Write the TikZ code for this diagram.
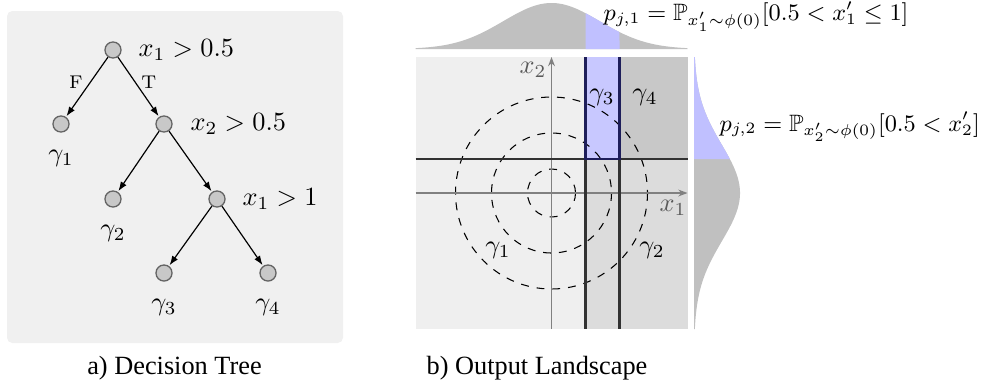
\documentclass[tikz,border=0pt]{standalone}
\usepackage{amsmath,amssymb}
\usepackage{fontspec}
\newfontfamily\capfont{Liberation Serif}
\usetikzlibrary{arrows.meta}
\definecolor{panelbg}{RGB}{240,240,240}
\definecolor{regA}{RGB}{239,239,239}
\definecolor{regB}{RGB}{220,220,220}
\definecolor{regC}{RGB}{200,200,255}
\definecolor{regD}{RGB}{200,200,200}
\definecolor{gaussgray}{RGB}{192,192,192}
\definecolor{gaussblue}{RGB}{192,192,255}
\definecolor{nodefill}{RGB}{200,200,200}
\definecolor{nodeedge}{RGB}{100,100,100}
\definecolor{splitline}{RGB}{50,50,50}
\definecolor{boxline}{RGB}{30,30,90}
\definecolor{axisgray}{RGB}{128,128,128}
\definecolor{axislabel}{RGB}{90,90,90}
\begin{document}
\begin{tikzpicture}[x=0.38pt,y=-0.38pt,
  treenode/.style={circle,fill=nodefill,draw=nodeedge,line width=0.5pt,minimum size=6.1pt,inner sep=0pt},
  treeedge/.style={-{Latex[length=3.6pt,width=2.6pt]},line width=0.45pt,shorten >=0.3pt},
  lbl/.style={inner sep=0pt},
  formula/.style={inner sep=0pt,anchor=base west,font=\fontsize{9}{11}\selectfont},
  edgelbl/.style={inner sep=0pt,font=\scriptsize},
  split/.style={draw=splitline,line width=0.8pt},
  axisline/.style={draw=axisgray,line width=0.5pt},
  axisarrow/.style={axisline,-{Stealth[length=3.5pt,width=2.6pt]}},
  contour/.style={dashed,line width=0.4pt,black},
  caption/.style={inner sep=0pt,font=\capfont}]
\useasboundingbox (0,0) rectangle (987,389);

% ---------- a) Decision tree ----------
\fill[panelbg,rounded corners=2pt] (7,11) rectangle (343,343);

\node[treenode] (n1) at (113,50) {};
\node[treenode] (n2) at (61,124) {};
\node[treenode] (n3) at (164,124) {};
\node[treenode] (n4) at (113,199) {};
\node[treenode] (n5) at (217,199) {};
\node[treenode] (n6) at (164,273) {};
\node[treenode] (n7) at (268,273) {};

\node[lbl,anchor=west] (c1) at (138,50) {$x_1 > 0.5$};
\node[lbl,anchor=west] (c2) at (190,124) {$x_2 > 0.5$};
\node[lbl,anchor=west] (c3) at (242,199) {$x_1 > 1$};

\node[lbl] (g1) at (61,158) {$\gamma_1$};
\node[lbl] (g2) at (113,233) {$\gamma_2$};
\node[lbl] (g3) at (164,307) {$\gamma_3$};
\node[lbl] (g4) at (268,307) {$\gamma_4$};

\draw[treeedge] (n1) -- (n2);
\draw[treeedge] (n1) -- (n3);
\draw[treeedge] (n3) -- (n4);
\draw[treeedge] (n3) -- (n5);
\draw[treeedge] (n5) -- (n6);
\draw[treeedge] (n5) -- (n7);

\node[edgelbl] (fl) at (76,82) {F};
\node[edgelbl] (tl) at (149,82) {T};

% ---------- b) Output landscape ----------
% regions (origin at 551.5,193; 68 px per unit)
\fill[regA] (415.5,57) rectangle (585.5,329);
\fill[regB] (585.5,159) rectangle (687.5,329);
\fill[regC] (585.5,57) rectangle (619.5,159);
\fill[regD] (619.5,57) rectangle (687.5,159);

% top gaussian
\fill[gaussgray] (415.5,49) -- plot[domain=-2:2,samples=120,smooth] ({551.5+68*\x},{49-46*exp(-(\x)^2)}) -- (687.5,49) -- cycle;
\fill[gaussblue] (585.5,49) -- plot[domain=0.5:1,samples=30,smooth] ({551.5+68*\x},{49-46*exp(-(\x)^2)}) -- (619.5,49) -- cycle;

% right gaussian
\fill[gaussgray] (694,329) -- plot[domain=-2:2,samples=120,smooth] ({694+46*exp(-(\x)^2)},{193-68*\x}) -- (694,57) -- cycle;
\fill[gaussblue] (694,159) -- plot[domain=0.5:2,samples=50,smooth] ({694+46*exp(-(\x)^2)},{193-68*\x}) -- (694,57) -- cycle;

% contours
\coordinate (o) at (551.5,193);
\draw[contour] (o) circle[radius=24];
\draw[contour] (o) circle[radius=60];
\draw[contour] (o) circle[radius=96];

% axes
\coordinate (xl) at (415.5,193);
\coordinate (xr) at (687.5,193);
\coordinate (yb) at (551.5,329);
\coordinate (yt) at (551.5,57);
\draw[axisarrow] (xl) -- (xr);
\draw[axisarrow] (yb) -- (yt);
\node[lbl,text=axislabel] (ax1) at (673,208) {$x_1$};
\node[lbl,text=axislabel] (ax2) at (533,70) {$x_2$};

% split lines
\draw[split] (585.5,57) -- (585.5,329);
\draw[split] (619.5,57) -- (619.5,329);
\draw[split] (415.5,159) -- (687.5,159);
\draw[draw=boxline,line width=0.8pt] (585.5,57) -- (585.5,159) -- (619.5,159) -- (619.5,57);

% region labels
\node[lbl] (r3) at (602,97) {$\gamma_3$};
\node[lbl] (r4) at (645,97) {$\gamma_4$};
\node[lbl] (r1) at (498,250) {$\gamma_1$};
\node[lbl] (r2) at (652,250) {$\gamma_2$};

% probabilities
\node[formula] (p1) at (603,20.5) {$p_{j,1} = \mathbb{P}_{x'_1 \sim \phi(0)}[0.5 < x'_1 \leq 1]$};
\node[formula] (p2) at (719,131) {$p_{j,2} = \mathbb{P}_{x'_2 \sim \phi(0)}[0.5 < x'_2]$};

% captions
\node[caption] (capa) at (174.5,368) {a) Decision Tree};
\node[caption] (capb) at (537,368) {b) Output Landscape};
\end{tikzpicture}
\end{document}
